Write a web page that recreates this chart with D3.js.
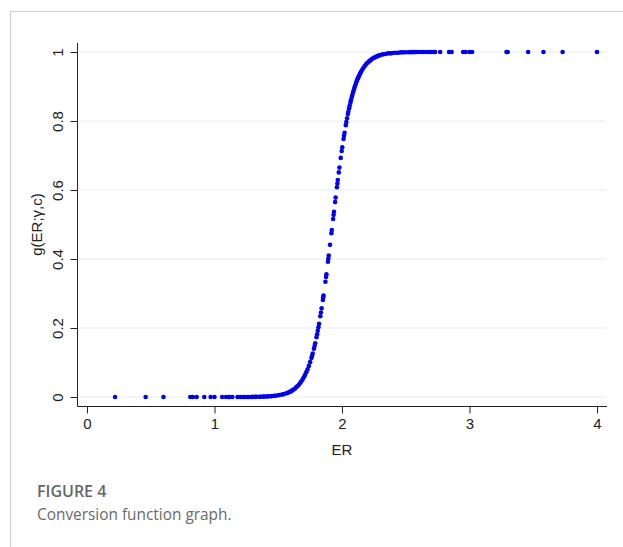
<!DOCTYPE html>
<html>
<head>
<meta charset="utf-8">
<script src="https://cdn.jsdelivr.net/npm/d3@7"></script>
<style>
  body { margin: 0; background: #fff; }
  svg { display: block; }
</style>
</head>
<body>
<div id="chart"></div>
<script>
// ER values where g is flat at zero (left tail)
const erLow = [0.22, 0.46, 0.60, 0.81, 0.83, 0.86, 0.92, 0.97, 1.00, 1.06, 1.09, 1.11, 1.12, 1.14,
  1.18, 1.20, 1.21, 1.23, 1.24, 1.26, 1.27, 1.29, 1.30, 1.32, 1.33, 1.35, 1.36, 1.38, 1.39, 1.41, 1.42]
const gLow = [0, 0, 0, 0, 0, 0, 0, 0, 0, 0, 0, 0, 0, 0,
  0, 0, 0, 0, 0, 0, 0, 0, 0.0004, 0.0005, 0.0006, 0.0008, 0.0009, 0.0011, 0.0012, 0.0015, 0.0018]

// rising part
const erCurve = [1.44, 1.45, 1.47, 1.48, 1.50, 1.51, 1.53, 1.54, 1.56, 1.57, 1.58, 1.59, 1.60, 1.61,
  1.62, 1.63, 1.64, 1.65, 1.66, 1.67, 1.68, 1.69, 1.70, 1.71, 1.72, 1.73, 1.74, 1.75, 1.76, 1.765,
  1.77, 1.78, 1.785, 1.79, 1.80, 1.805, 1.81, 1.815, 1.82, 1.83, 1.835, 1.84, 1.85, 1.853, 1.855,
  1.87, 1.875, 1.878, 1.89, 1.893, 1.896, 1.906, 1.917, 1.92, 1.93, 1.934, 1.937, 1.946, 1.95,
  1.96, 1.964, 1.967, 1.975, 1.98, 1.99, 1.998, 2.002, 2.012, 2.016, 2.02, 2.03, 2.034, 2.04,
  2.046, 2.05, 2.056, 2.06, 2.066, 2.07, 2.076, 2.08, 2.086, 2.09, 2.095, 2.10, 2.105, 2.11,
  2.115, 2.12, 2.125, 2.13, 2.135, 2.14, 2.145, 2.15, 2.16, 2.17, 2.18, 2.19, 2.20, 2.21, 2.22,
  2.23, 2.24, 2.25, 2.26, 2.27, 2.28, 2.29, 2.30, 2.32, 2.34, 2.36, 2.38, 2.40, 2.42, 2.44, 2.46,
  2.48, 2.50, 2.52, 2.54, 2.56, 2.58, 2.60, 2.62, 2.64, 2.66, 2.68, 2.70, 2.72, 2.73]
const gCurve = [0.0023, 0.0026, 0.0034, 0.0038, 0.0049, 0.0056, 0.0072, 0.0080, 0.0103, 0.0117, 0.0131, 0.0148, 0.0167, 0.0191,
  0.0215, 0.024, 0.028, 0.031, 0.035, 0.040, 0.045, 0.050, 0.057, 0.064, 0.072, 0.080, 0.090, 0.101, 0.113, 0.119,
  0.126, 0.140, 0.148, 0.156, 0.173, 0.182, 0.192, 0.202, 0.212, 0.234, 0.245, 0.257, 0.281, 0.289, 0.294,
  0.334, 0.348, 0.356, 0.392, 0.401, 0.410, 0.441, 0.475, 0.484, 0.516, 0.528, 0.537, 0.565, 0.578,
  0.608, 0.619, 0.629, 0.651, 0.665, 0.693, 0.713, 0.724, 0.748, 0.757, 0.766, 0.788, 0.797, 0.808,
  0.820, 0.827, 0.837, 0.844, 0.853, 0.860, 0.868, 0.874, 0.882, 0.887, 0.893, 0.899, 0.904, 0.910,
  0.915, 0.920, 0.924, 0.928, 0.932, 0.936, 0.940, 0.943, 0.949, 0.955, 0.960, 0.965, 0.969, 0.972, 0.975,
  0.978, 0.981, 0.983, 0.985, 0.987, 0.988, 0.990, 0.991, 0.993, 0.994, 0.996, 0.996, 0.997, 0.998, 0.998, 0.9988,
  0.999, 0.9992, 0.9994, 0.9995, 0.9996, 0.9997, 0.9998, 0.9998, 0.9999, 0.9999, 0.9999, 1, 1, 1]

// right tail, g at one
const erHigh = [2.77, 2.84, 2.86, 2.95, 2.97, 3.00, 3.02, 3.29, 3.30, 3.46, 3.58, 3.73, 4.00]
const gHigh = [1, 1, 1, 1, 1, 1, 1, 1, 1, 1, 1, 1, 1]

const xTicks = [0, 1, 2, 3, 4]
const yTicks = [0, 0.2, 0.4, 0.6, 0.8, 1]
const yTickLabels = ['0', '0.2', '0.4', '0.6', '0.8', '1']

var W = 623, H = 547
var svg = d3.select('#chart').append('svg').attr('width', W).attr('height', H)

// card frame
svg.append('path').attr('d', 'M10.5,547 V11.5 H623').attr('fill', 'none').attr('stroke', '#cfcfcf').attr('stroke-width', 1.2)

var x = d3.scaleLinear().domain([0, 4]).range([87, 597])
var y = d3.scaleLinear().domain([0, 1]).range([397, 52])
var plotLeft = 77.5, plotRight = 607, plotTop = 43, plotBottom = 406.5

// grid
svg.append('g').selectAll('line').data(yTicks).enter().append('line')
  .attr('x1', plotLeft + 1).attr('x2', plotRight)
  .attr('y1', d => y(d)).attr('y2', d => y(d))
  .attr('stroke', '#e4edf1').attr('stroke-width', 1.2)

var font = '"Liberation Sans", Arial, sans-serif'

var xAxis = d3.axisBottom(x).tickValues(xTicks).tickFormat(d3.format('d')).tickSize(7).tickPadding(5)
svg.append('g').attr('transform', `translate(0,${plotBottom})`).call(xAxis)
  .call(g => g.select('.domain').remove())
  .call(g => g.selectAll('line').attr('stroke', '#222'))
  .call(g => g.selectAll('text').attr('fill', '#222').style('font-family', font).style('font-size', '15px'))

var yAxis = d3.axisLeft(y).tickValues(yTicks).tickFormat((d, i) => yTickLabels[i]).tickSize(7)
svg.append('g').attr('transform', `translate(${plotLeft},0)`).call(yAxis)
  .call(g => g.select('.domain').remove())
  .call(g => g.selectAll('line').attr('stroke', '#222'))
  .call(g => g.selectAll('text')
    .attr('x', null).attr('dy', null)
    .attr('text-anchor', 'middle')
    .attr('transform', 'translate(-15,0) rotate(-90)')
    .attr('fill', '#222').style('font-family', font).style('font-size', '15px'))

// axis lines
svg.append('line').attr('x1', plotLeft).attr('x2', plotLeft).attr('y1', plotTop).attr('y2', plotBottom).attr('stroke', '#222')
svg.append('line').attr('x1', plotLeft).attr('x2', plotRight).attr('y1', plotBottom).attr('y2', plotBottom).attr('stroke', '#222')

// titles
svg.append('text').attr('x', x(2)).attr('y', 455).attr('text-anchor', 'middle')
  .style('font-family', font).style('font-size', '15px').attr('fill', '#222').text('ER')
svg.append('text').attr('transform', `translate(42,${y(0.5)}) rotate(-90)`).attr('text-anchor', 'middle')
  .style('font-family', font).style('font-size', '15px').attr('fill', '#222').text('g(ER;γ,c)')

// points
var pts = []
erLow.forEach((d, i) => pts.push([d, gLow[i]]))
erCurve.forEach((d, i) => pts.push([d, gCurve[i]]))
erHigh.forEach((d, i) => pts.push([d, gHigh[i]]))

svg.append('g').selectAll('circle').data(pts).enter().append('circle')
  .attr('cx', d => x(d[0])).attr('cy', d => y(d[1])).attr('r', 2.3)
  .attr('fill', '#0000f0')

// caption
var capFont = '"Open Sans", "Noto Sans", sans-serif'
svg.append('text').attr('x', 37).attr('y', 497).style('font-family', capFont).style('font-size', '16px')
  .style('font-weight', 600).attr('fill', '#666').text('FIGURE 4')
svg.append('text').attr('x', 37).attr('y', 520).style('font-family', capFont).style('font-size', '15.4px')
  .attr('fill', '#6a6a6a').text('Conversion function graph.')
</script>
</body>
</html>
